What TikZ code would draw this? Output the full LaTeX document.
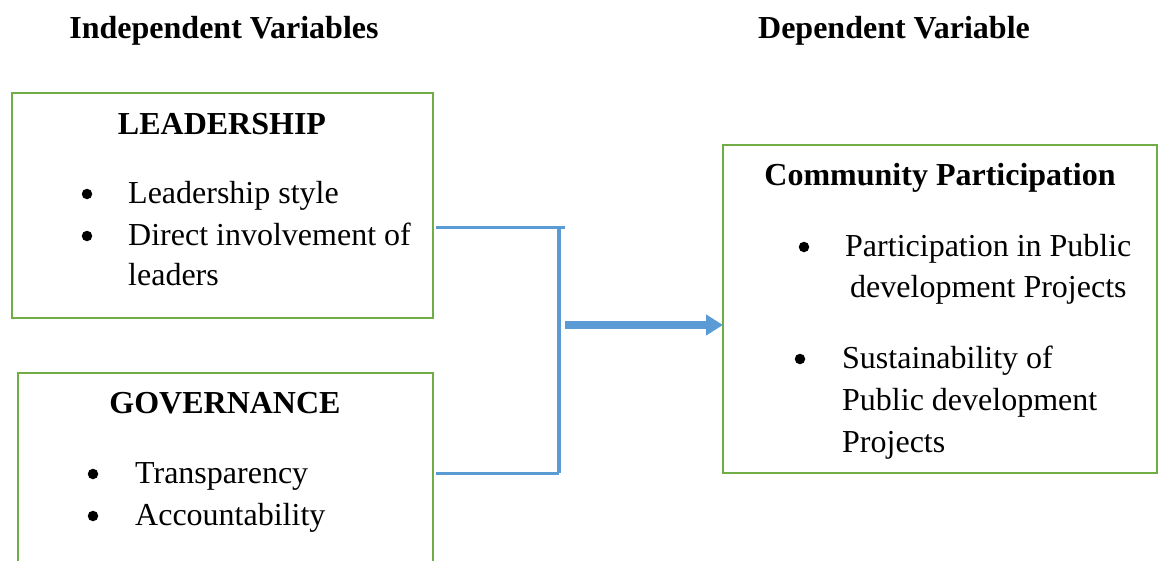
\documentclass[tikz,border=0pt]{standalone}
\usepackage{fontspec}
\setmainfont{Liberation Serif}
\usetikzlibrary{arrows.meta}
\definecolor{boxgreen}{RGB}{112,173,71}
\definecolor{linkblue}{RGB}{91,155,213}
\begin{document}
\begin{tikzpicture}[x=1pt,y=-1pt,
  panel/.style={draw=boxgreen,line width=2.6pt},
  txt/.style={anchor=base west,inner sep=0pt,font=\fontsize{32}{41}\selectfont},
  bul/.style={circle,fill=black,inner sep=0pt,minimum size=10.5pt,yshift=9pt},
  hd/.style={anchor=base,inner sep=0pt,font=\fontsize{32}{41}\selectfont\bfseries},
  link/.style={draw=linkblue,line width=3pt},
  bigarrow/.style={draw=linkblue,line width=7.5pt,-{Triangle[length=17pt,width=20pt]}}]
\useasboundingbox (0,0) rectangle (1160,560);
% headings
\node[hd] (hindep) at (224,38) {Independent Variables};
\node[hd] (hdep) at (894,38) {Dependent Variable};
% boxes
\draw[panel] (12,93) rectangle (433,318);
\coordinate (leadE) at (433,227);
\draw[panel] (18,373) rectangle (433,575);
\coordinate (govE) at (433,473);
\draw[panel] (723,145) rectangle (1157,473);
\coordinate (commW) at (723,325);
% leadership text
\node[hd] (lt) at (222,134) {LEADERSHIP};
\node[bul] (lb1) at (87,203) {};
\node[txt] (l1) at (128,203) {Leadership style};
\node[bul] (lb2) at (87,245) {};
\node[txt] (l2) at (128,245) {Direct involvement of};
\node[txt] (l3) at (128,285) {leaders};
% governance text
\node[hd] (gt) at (225,413) {GOVERNANCE};
\node[bul] (gb1) at (93,483) {};
\node[txt] (g1) at (135,483) {Transparency};
\node[bul] (gb2) at (93,525) {};
\node[txt] (g2) at (135,525) {Accountability};
% community text
\node[hd] (ct) at (940,185) {Community Participation};
\node[bul] (cb1) at (804,256) {};
\node[txt] (c1) at (845,256) {Participation in Public};
\node[txt] (c2) at (850,297) {development Projects};
\node[bul] (cb2) at (800,368) {};
\node[txt] (c3) at (842,368) {Sustainability of};
\node[txt] (c4) at (842,410) {Public development};
\node[txt] (c5) at (842,452) {Projects};
% connectors
\coordinate (jt) at (559,227);
\coordinate (jb) at (559,473);
\coordinate (jtx) at (565,227);
\coordinate (as) at (565,325);
\draw[link] ([xshift=3pt]leadE) -- (jtx);
\draw[link,line width=3.6pt] (jt) -- (jb);
\draw[link] (jb) -- ([xshift=3pt]govE);
\draw[bigarrow] (as) -- (commW);
\end{tikzpicture}
\end{document}
